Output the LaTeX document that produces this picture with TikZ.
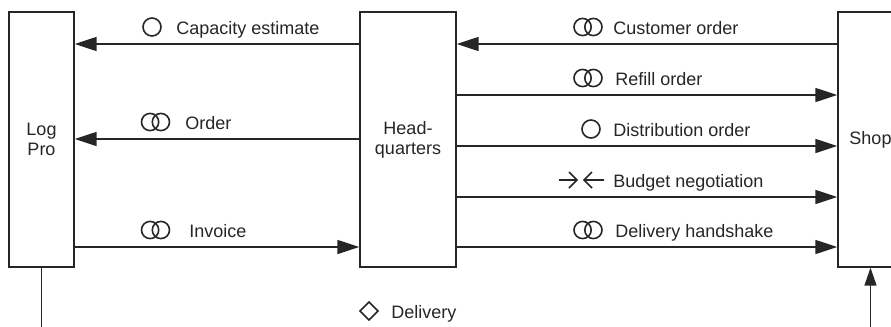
\documentclass[tikz,border=0pt]{standalone}
\usepackage{fontspec}
\setmainfont{Liberation Sans}
\usetikzlibrary{arrows.meta}
\begin{document}
\begin{tikzpicture}[x=0.5pt,y=-0.5pt,
  font=\fontsize{9}{10}\selectfont,
  party/.style={draw=black!85, line width=0.7pt, minimum height=127.5pt,
    align=center, inner sep=0pt, text=black!85},
  flow/.style={draw=black!85, line width=0.8pt, -{Triangle[length=11pt,width=7pt]}},
  lbl/.style={anchor=base west, inner sep=0pt, text=black!85},
  sym/.style={draw=black!85, line width=0.8pt},
  onering/.pic={\draw[sym] (0,0) circle[radius=4.5pt];},
  tworings/.pic={\draw[sym] (-2.7pt,0) circle[radius=4.3pt] (2.7pt,0) circle[radius=4.3pt];},
  meet/.pic={\draw[sym] (-10.5pt,0) -- (-1.5pt,0) (-5.5pt,-4pt) -- (-1.5pt,0) -- (-5.5pt,4pt)
                        (12pt,0) -- (2pt,0) (6pt,-4pt) -- (2pt,0) -- (6pt,4pt);},
  gem/.pic={\draw[sym] (0,-4.5pt) -- (4.5pt,0) -- (0,4.5pt) -- (-4.5pt,0) -- cycle;}]
\useasboundingbox (0,0) rectangle (891,327);
\fill[white] (0,0) rectangle (891,327);
\clip (0,0) rectangle (891,327);

% the three parties
\node[party, minimum width=32.5pt] (LP)   at (41.5,139.5)  {Log\\Pro};
\node[party, minimum width=48pt]   (HQ)   at (408,139.5)   {Head-\\quarters};
\node[party, minimum width=32.5pt] (Shop) at (870.5,139.5) {Shop};

% Log Pro <-> Headquarters
\draw[flow] (HQ.west |- 0,44)  -- (LP.east |- 0,44);
\draw[flow] (HQ.west |- 0,139) -- (LP.east |- 0,139);
\draw[flow] (LP.east |- 0,247) -- (HQ.west |- 0,247);

\pic at (152,27) {onering};
\node[lbl] (l1) at (176,34) {Capacity estimate};
\pic at (155.5,122) {tworings};
\node[lbl] (l2) at (185,129) {Order};
\pic at (155.5,230) {tworings};
\node[lbl] (l3) at (189,237) {Invoice};

% Headquarters <-> Shop
\draw[flow] (Shop.west |- 0,44)  -- (HQ.east |- 0,44);
\draw[flow] (HQ.east |- 0,95)  -- (Shop.west |- 0,95);
\draw[flow] (HQ.east |- 0,146) -- (Shop.west |- 0,146);
\draw[flow] (HQ.east |- 0,197) -- (Shop.west |- 0,197);
\draw[flow] (HQ.east |- 0,247) -- (Shop.west |- 0,247);

\pic at (588,27) {tworings};
\node[lbl] (l4) at (613,34) {Customer order};
\pic at (588,78) {tworings};
\node[lbl] (l5) at (615,85) {Refill order};
\pic at (591,129) {onering};
\node[lbl] (l6) at (613,136) {Distribution order};
\pic at (580,180) {meet};
\node[lbl] (l7) at (613,187) {Budget negotiation};
\pic at (588,230) {tworings};
\node[lbl] (l8) at (615,237) {Delivery handshake};

% delivery loop below the parties
\coordinate (loopL) at (41.5,345);
\coordinate (loopR) at (870.5,345);
\draw[draw=black!85, line width=0.8pt] (LP.south) -- (loopL);
\draw[flow, -{Triangle[length=9pt,width=6pt]}] (loopR) -- (Shop.south);
\pic at (369,311) {gem};
\node[lbl] (l9) at (391,318) {Delivery};
\end{tikzpicture}
\end{document}
